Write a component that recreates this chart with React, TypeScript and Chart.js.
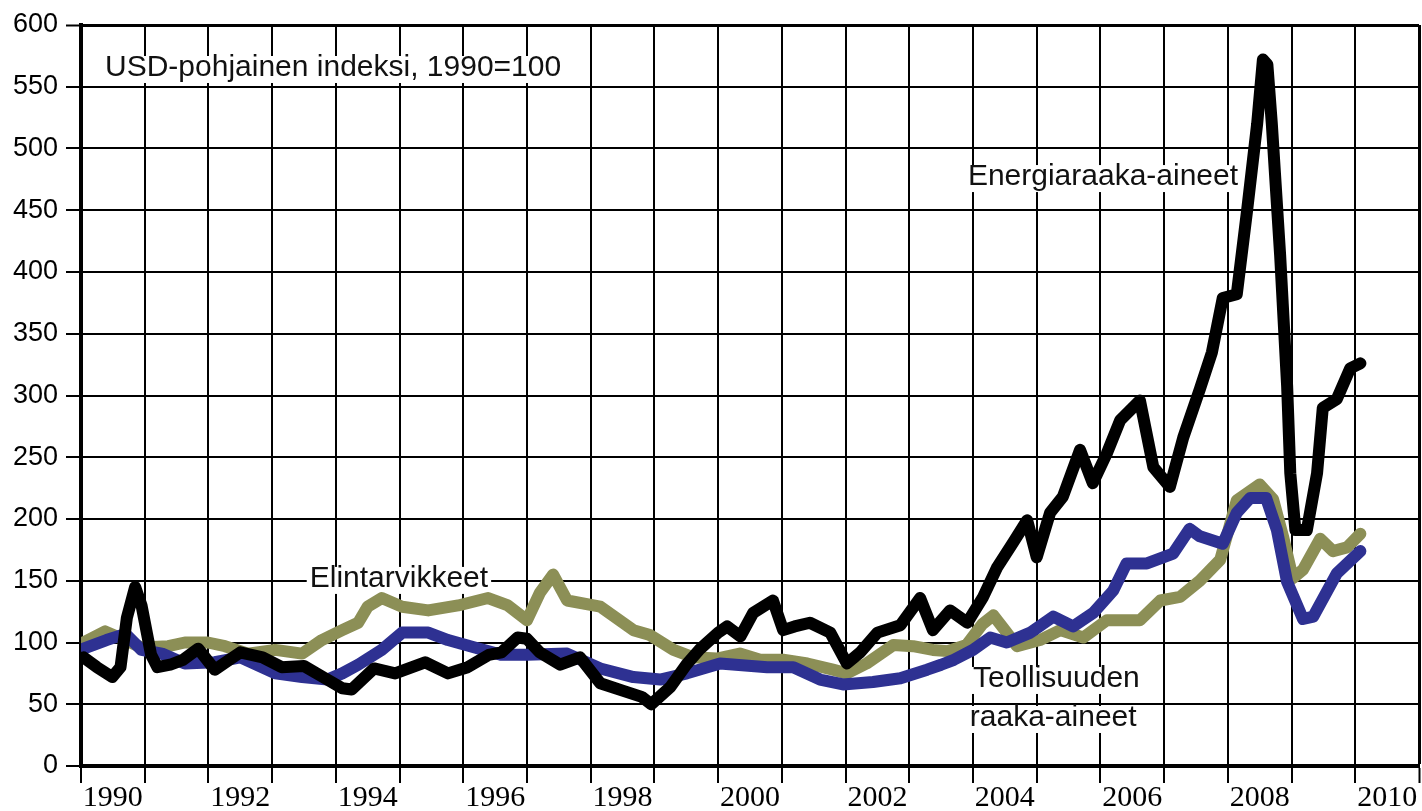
import { useEffect, useRef } from "react";
import { Chart, registerables } from "chart.js";

Chart.register(...registerables);

// ---- Data (USD-based index, 1990 = 100) ----
const energyYears = [
  1990.04, 1990.25, 1990.49, 1990.62, 1990.72, 1990.85, 1990.95, 1991.1, 1991.2, 1991.4,
  1991.6, 1991.84, 1992.1, 1992.5, 1992.85, 1993.15, 1993.5, 1993.8, 1994.1, 1994.25,
  1994.6, 1994.93, 1995.4, 1995.76, 1996.07, 1996.4, 1996.6, 1996.85, 1997.0, 1997.2,
  1997.52, 1997.83, 1998.15, 1998.5, 1998.8, 1998.95, 1999.25, 1999.5, 1999.72, 2000.0,
  2000.14, 2000.35, 2000.55, 2000.86, 2001.02, 2001.2, 2001.44, 2001.76, 2002.02, 2002.23,
  2002.5, 2002.86, 2003.17, 2003.37, 2003.64, 2003.91, 2004.16, 2004.38, 2004.63, 2004.85,
  2005.0, 2005.21, 2005.41, 2005.68, 2005.88, 2006.1, 2006.31, 2006.62, 2006.83, 2007.09,
  2007.3, 2007.56, 2007.75, 2007.92, 2008.14, 2008.3, 2008.46, 2008.55, 2008.62, 2008.69,
  2008.82, 2008.93, 2008.98, 2009.06, 2009.24, 2009.4, 2009.49, 2009.71, 2009.92, 2010.08,
];
const energyValues = [
  88, 80, 72, 80, 120, 145, 130, 90, 80, 82,
  86, 95, 78, 92, 88, 80, 81, 72, 63, 62,
  79, 75, 84, 75, 80, 90, 92, 104, 103, 92,
  82, 88, 67, 61, 56, 50, 64, 82, 95, 108,
  113, 105, 124, 134, 110, 113, 116, 108, 83, 92,
  108, 114, 136, 110, 126, 116, 137, 161, 181, 199,
  169, 205, 218, 256, 229, 253, 280, 296, 242, 226,
  266, 305, 335, 379, 382, 449, 520, 572, 568, 520,
  414, 308, 237, 191, 191, 237, 290, 297, 322, 326,
];

const industrialYears = [
  1990.04, 1990.4, 1990.7, 1990.95, 1991.27, 1991.63, 1992.1, 1992.5, 1993.05, 1993.47,
  1993.87, 1994.1, 1994.35, 1994.72, 1995.04, 1995.45, 1995.76, 1996.18, 1996.6, 1997.0,
  1997.63, 1998.15, 1998.67, 1999.09, 1999.51, 2000.03, 2000.77, 2001.18, 2001.6, 2001.96,
  2002.43, 2002.86, 2003.28, 2003.5, 2003.7, 2004.0, 2004.27, 2004.53, 2004.9, 2005.26,
  2005.57, 2005.89, 2006.2, 2006.41, 2006.73, 2007.14, 2007.4, 2007.56, 2007.92, 2008.14,
  2008.35, 2008.6, 2008.77, 2008.93, 2009.18, 2009.34, 2009.71, 2010.08,
];
const industrialValues = [
  95, 102, 107, 94, 91, 83, 84, 88, 75, 72,
  70, 75, 82, 94, 108, 108, 102, 96, 90, 90,
  91, 79, 72, 70, 75, 83, 80, 80, 70, 66,
  68, 71, 78, 82, 86, 94, 104, 100, 108, 121,
  113, 124, 142, 164, 164, 172, 192, 186, 180, 205,
  217, 217, 191, 149, 119, 121, 156, 174,
];

const foodYears = [
  1990.04, 1990.38, 1990.69, 1990.95, 1991.37, 1991.63, 1991.99, 1992.26, 1992.62, 1993.05,
  1993.47, 1993.78, 1994.1, 1994.35, 1994.5, 1994.72, 1995.04, 1995.45, 1995.92, 1996.39,
  1996.7, 1997.0, 1997.2, 1997.41, 1997.63, 1998.15, 1998.67, 1998.93, 1999.3, 1999.61,
  1999.98, 2000.34, 2000.66, 2001.02, 2001.4, 2001.8, 2002.02, 2002.33, 2002.75, 2003.06,
  2003.37, 2003.6, 2003.9, 2004.15, 2004.32, 2004.5, 2004.69, 2005.05, 2005.37, 2005.73,
  2006.1, 2006.62, 2006.94, 2007.25, 2007.56, 2007.88, 2008.14, 2008.5, 2008.71, 2008.87,
  2009.02, 2009.18, 2009.45, 2009.65, 2009.87, 2010.08,
];
const foodValues = [
  100, 109, 102, 96, 97, 100, 100, 97, 91, 94,
  91, 102, 110, 116, 129, 136, 129, 126, 130, 136,
  130, 118, 140, 155, 134, 129, 110, 106, 94, 88,
  87, 91, 86, 86, 83, 78, 75, 83, 98, 97,
  94, 93, 98, 115, 122, 110, 97, 102, 110, 104,
  118, 118, 134, 137, 150, 167, 215, 228, 216, 185,
  152, 159, 184, 174, 177, 188,
];

const yTickValues = [0, 50, 100, 150, 200, 250, 300, 350, 400, 450, 500, 550, 600];
const xLabelYears = [1990, 1992, 1994, 1996, 1998, 2000, 2002, 2004, 2006, 2008, 2010];
const xGridYears = [
  1990, 1991, 1992, 1993, 1994, 1995, 1996, 1997, 1998, 1999, 2000,
  2001, 2002, 2003, 2004, 2005, 2006, 2007, 2008, 2009, 2010, 2011,
];

const notes = [
  { text: "USD-pohjainen indeksi, 1990=100", x: 1990.377, y: 558.7 },
  { text: "Energiaraaka-aineet", x: 2003.92, y: 470.4 },
  { text: "Elintarvikkeet", x: 1993.59, y: 145 },
  { text: "Teollisuuden", x: 2004.0, y: 64 },
  { text: "raaka-aineet", x: 2003.95, y: 32.4 },
];

const SANS = '"Liberation Sans", Arial, sans-serif';
const SERIF = '"Liberation Serif", "Times New Roman", serif';

const notesPlugin = {
  id: "notes",
  beforeDatasetsDraw(chart: any) {
    const { ctx, scales } = chart;
    const xs = scales.x;
    const ys = scales.y;
    ctx.save();
    ctx.font = `30px ${SANS}`;
    ctx.textBaseline = "alphabetic";
    ctx.textAlign = "left";
    for (const n of notes) {
      const px = xs.getPixelForValue(n.x);
      const py = ys.getPixelForValue(n.y);
      const w = ctx.measureText(n.text).width;
      ctx.fillStyle = "#ffffff";
      ctx.fillRect(px - 3, py - 20, w + 6, 27);
      ctx.fillStyle = "#111111";
      ctx.fillText(n.text, px, py);
    }
    ctx.restore();
  },
};

const pts = (xs: number[], ys: number[]) => xs.map((x, i) => ({ x, y: ys[i] }));

const isInt = (v: number) => Math.abs(v - Math.round(v)) < 1e-6;

export default function App() {
  const ref = useRef<HTMLCanvasElement>(null);

  useEffect(() => {
    if (!ref.current) return;
    const lineBase = {
      pointRadius: 0,
      pointHoverRadius: 0,
      tension: 0,
      borderWidth: 12,
      borderJoinStyle: "round" as const,
      borderCapStyle: "round" as const,
      fill: false,
    };
    const chart = new Chart(ref.current, {
      type: "line",
      data: {
        datasets: [
          { ...lineBase, label: "Energiaraaka-aineet", data: pts(energyYears, energyValues), borderColor: "#000000" },
          { ...lineBase, label: "Teollisuuden raaka-aineet", data: pts(industrialYears, industrialValues), borderColor: "#2e3192" },
          { ...lineBase, label: "Elintarvikkeet", data: pts(foodYears, foodValues), borderColor: "#8c8f56" },
        ],
      },
      options: {
        animation: false,
        responsive: false,
        events: [],
        layout: { padding: { top: 25, right: 3, left: 0, bottom: 0 } },
        plugins: { legend: { display: false }, tooltip: { enabled: false } },
        scales: {
          x: {
            type: "linear",
            min: 1990,
            max: 2011,
            afterBuildTicks: (s: any) => {
              const t: { value: number }[] = [];
              xGridYears.forEach((y) => {
                t.push({ value: y });
                if (y < 2011) t.push({ value: y + 0.5 });
              });
              s.ticks = t;
            },
            afterFit: (s: any) => {
              s.height = 45;
            },
            grid: {
              color: (c: any) => (isInt(c.tick.value) ? "#000000" : "rgba(0,0,0,0)"),
              tickColor: (c: any) => (isInt(c.tick.value) ? "#000000" : "rgba(0,0,0,0)"),
              lineWidth: (c: any) => (c.tick.value === 2011 ? 3 : 2),
              tickWidth: 2,
              tickLength: 17,
            },
            border: { display: true, color: "#000000", width: 4 },
            ticks: {
              autoSkip: false,
              maxRotation: 0,
              minRotation: 0,
              padding: 0,
              color: "#000000",
              font: { family: SERIF, size: 30, lineHeight: 1 },
              callback: (v: any) => {
                const n = Number(v);
                const f = Math.floor(n);
                if (!isInt(n) && xLabelYears.includes(f)) return String(f);
                return "";
              },
            },
          },
          y: {
            type: "linear",
            min: 0,
            max: 600,
            afterBuildTicks: (s: any) => {
              s.ticks = yTickValues.map((v) => ({ value: v }));
            },
            afterFit: (s: any) => {
              s.width = 81;
            },
            grid: {
              color: "#000000",
              tickColor: "#000000",
              lineWidth: (c: any) => (c.tick.value === 600 ? 3 : 2),
              tickWidth: 2,
              tickLength: 15,
            },
            border: { display: true, color: "#000000", width: 4 },
            ticks: {
              padding: 8,
              color: "#000000",
              font: { family: SANS, size: 27 },
            },
          },
        },
      },
      plugins: [notesPlugin],
    });
    return () => chart.destroy();
  }, []);

  return (
    <div style={{ position: "fixed", left: 0, top: 0, width: 1422, height: 811, background: "#ffffff" }}>
      <canvas ref={ref} width={1422} height={811} style={{ display: "block" }} />
    </div>
  );
}
